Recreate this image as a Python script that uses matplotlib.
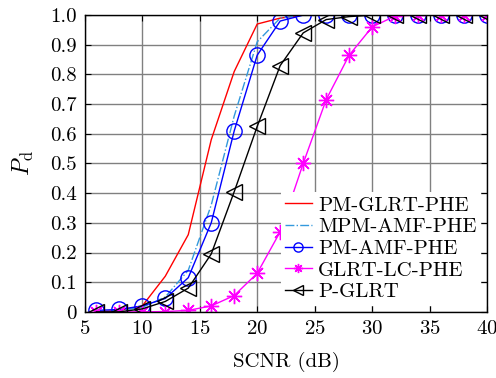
import numpy as np
import matplotlib
matplotlib.use('Agg')
import matplotlib.pyplot as plt

plt.rcParams['font.family'] = ['cmr10']
plt.rcParams['mathtext.fontset'] = 'cm'
plt.rcParams['axes.formatter.use_mathtext'] = True

# ── data ─────────────────────────────────────────────────────────────────────
scnr = [6, 8, 10, 12, 14, 16, 18, 20, 22, 24, 26, 28, 30, 32, 34, 36, 38, 40]

pm_glrt_phe = [0.0, 0.005, 0.02, 0.12, 0.26, 0.58, 0.81, 0.97, 0.99, 1.0,
               1.0, 1.0, 1.0, 1.0, 1.0, 1.0, 1.0, 1.0]
mpm_amf_phe = [0.0, 0.005, 0.015, 0.05, 0.14, 0.36, 0.66, 0.91, 0.99, 1.0,
               1.0, 1.0, 1.0, 1.0, 1.0, 1.0, 1.0, 1.0]
pm_amf_phe = [0.005, 0.008, 0.02, 0.045, 0.115, 0.30, 0.61, 0.865, 0.98, 1.0,
              1.0, 1.0, 1.0, 1.0, 1.0, 1.0, 1.0, 1.0]
glrt_lc_phe = [0.0, 0.0, 0.0, 0.001, 0.005, 0.02, 0.055, 0.13, 0.27, 0.50,
               0.715, 0.865, 0.96, 0.997, 1.0, 1.0, 1.0, 1.0]
p_glrt = [0.0, 0.0, 0.01, 0.035, 0.08, 0.195, 0.405, 0.625, 0.83, 0.94,
          0.985, 0.995, 1.0, 1.0, 1.0, 1.0, 1.0, 1.0]

# ── plot ─────────────────────────────────────────────────────────────────────
fig = plt.figure(figsize=(4.96, 3.78), dpi=100)
ax = fig.add_axes([0.171, 0.175, 0.811, 0.785])

ax.plot(scnr, pm_glrt_phe, color='red', lw=1.0, label='PM-GLRT-PHE')
ax.plot(scnr, mpm_amf_phe, color='#3399dd', lw=1.0, ls='-.', label='MPM-AMF-PHE')
ax.plot(scnr, pm_amf_phe, color='blue', lw=1.0, marker='o', ms=11,
        mfc='none', mew=1.0, label='PM-AMF-PHE')
ax.plot(scnr, glrt_lc_phe, color='magenta', lw=1.0, marker=(8, 2, 0), ms=11,
        mfc='none', mew=1.0, label='GLRT-LC-PHE')
ax.plot(scnr, p_glrt, color='black', lw=1.0, marker='<', ms=11,
        mfc='none', mew=1.0, label='P-GLRT')

ax.set_xlim(5, 40)
ax.set_ylim(0, 1)
ax.set_xticks(np.arange(5, 41, 5))
ax.set_yticks(np.arange(0, 1.01, 0.1))
ax.set_yticklabels(['0'] + ['%.1f' % v for v in np.arange(0.1, 1.01, 0.1)])
ax.tick_params(direction='in', top=True, right=True, labelsize=15, length=4, pad=6)
ax.grid(True, color='#808080', lw=1.0)
for s in ax.spines.values():
    s.set_linewidth(1.0)

ax.set_xlabel('SCNR (dB)', fontsize=15, labelpad=10)
ax.set_ylabel(r'$P_\mathrm{d}$', fontsize=17, labelpad=10)

leg = ax.legend(loc='lower right', fontsize=15, numpoints=1, handlelength=1.3,
                handletextpad=0.3, labelspacing=0.15, borderaxespad=0.3,
                fancybox=False, framealpha=1, edgecolor='none',
                borderpad=0.2, markerscale=0.6)
leg.set_bbox_to_anchor((1.0, 0.0), transform=ax.transAxes)

fig.savefig('out.png', dpi=100)
